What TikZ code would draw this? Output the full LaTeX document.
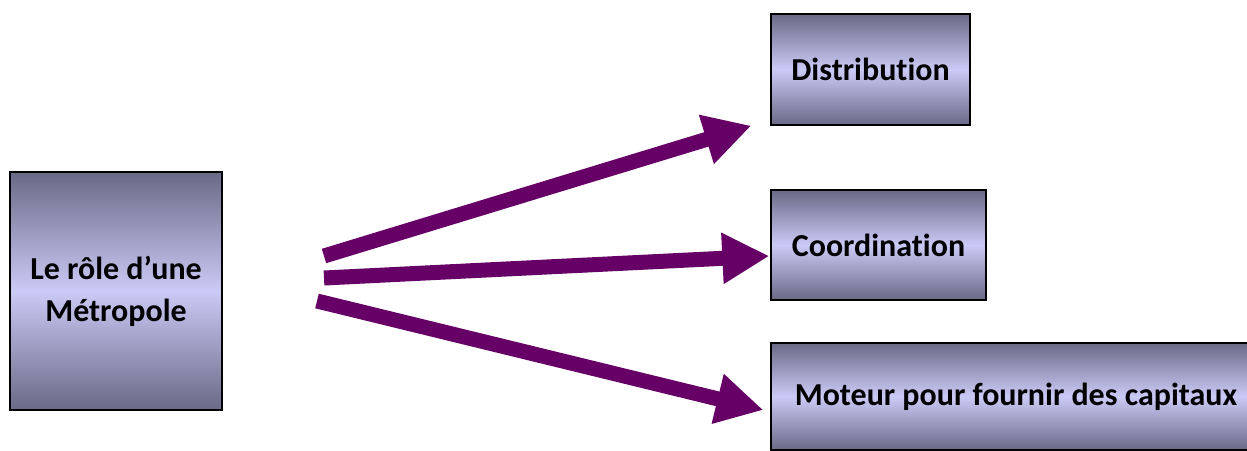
\documentclass[tikz,border=0pt]{standalone}
\usepackage{fontspec}
\setmainfont{Carlito}[Ligatures=NoCommon]
\usetikzlibrary{arrows.meta,calc}
\definecolor{boxdark}{HTML}{6A6986}
\definecolor{boxlight}{HTML}{CACAF6}
\definecolor{flowpurple}{HTML}{660066}
\begin{document}
\begin{tikzpicture}[x=0.02cm,y=-0.02cm,
		panel/.style={rectangle,draw=black,line width=0.8pt,top color=boxdark,bottom color=boxdark,middle color=boxlight,font=\fontsize{18.2}{24}\selectfont\bfseries,align=center,inner sep=0pt},
		flow/.style={flowpurple,line width=0.3cm,-{Triangle[length=0.94cm,width=0.96cm]}}]
		\useasboundingbox (0,0) rectangle (1247,450);
		\node[panel,minimum width=4.24cm,minimum height=4.76cm](role) at (116,291){Le rôle d’une\\ Métropole};
		\node[panel,minimum width=3.98cm,minimum height=2.22cm](dist) at (870.5,69.5){Distribution};
		\node[panel,minimum width=4.3cm,minimum height=2.2cm](coord) at (878.5,245){Coordination};
		\node[panel,minimum width=9.8cm,minimum height=2.14cm](cap) at (1016,396.5){Moteur pour fournir des capitaux};
		\coordinate (s1) at (324,256);
		\coordinate (s2) at (324,278);
		\coordinate (s3) at (317,301);
		\draw[flow] (s1) -- ($(dist.south west)+(-19,0)$);
		\draw[flow] (s2) -- ($(coord.west)+(-1,11)$);
		\draw[flow] (s3) -- ($(cap.west)+(-7,13.5)$);
	\end{tikzpicture}
\end{document}
